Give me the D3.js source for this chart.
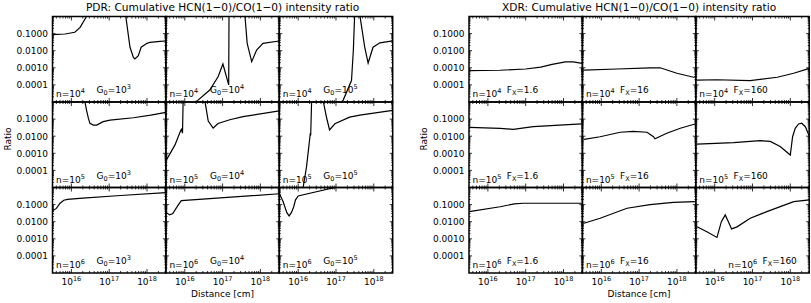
<!DOCTYPE html>
<html>
<head>
<meta charset="utf-8">
<script src="https://cdn.jsdelivr.net/npm/d3@7"></script>
<style>
  body { margin: 0; background: #fff; }
  svg { display: block; }
  text { font-family: "DejaVu Sans", sans-serif; fill: #000; }
</style>
</head>
<body>
<div id="chart"></div>
<script>
// axis ticks
var xTickVals = [1e16, 1e17, 1e18];
var xTickExp = ['16', '17', '18'];
var yTickVals = [1e-1, 1e-2, 1e-3, 1e-4];
var yTickLabels = ['0.1000', '0.0100', '0.0010', '0.0001'];

// panel parameters
var densityExp = ['4', '5', '6'];
var g0Exp = ['3', '4', '5'];
var fxValues = ['1.6', '16', '160'];

// PDR curves: [distance cm, ratio]
var pdr_n4_g3 = [[3.2e15,0.087],[6.8e15,0.095],[1.23e16,0.12],[1.7e16,0.23],[2.51e16,1.0],[3.2e16,3],[2.2e17,3],[2.75e17,1.0],[3.55e17,0.0158],[4.37e17,0.0041],[4.79e17,0.0033],[5.89e17,0.0051],[7.0e17,0.016],[1.0e18,0.027],[1.2e18,0.031],[2.2e18,0.035],[3.16e18,0.037]];
var pdr_n4_g4 = [[1.7e16,5e-6],[2.24e16,1.3e-5],[4.57e16,5.0e-5],[7.59e16,3.0e-4],[1.02e17,1.66e-3],[1.45e17,1.0e-4],[1.48e17,3],[3.5e17,3],[3.89e17,1.2],[4.47e17,0.027],[5.89e17,0.0023],[7.94e17,0.011],[1.17e18,0.027],[3.16e18,0.037]];
var pdr_n4_g5 = [[1.26e17,8e-6],[1.55e17,1.3e-5],[2.57e17,1.8e-4],[2.88e17,0.011],[3.16e17,3],[3.63e17,5],[4.27e17,1.2],[5.75e17,0.016],[7.08e17,0.0019],[9.55e17,0.016],[1.45e18,0.029],[3.16e18,0.038]];
var pdr_n5_g3 = [[1.8e16,5],[2.29e16,1.0],[2.51e16,0.34],[2.82e16,0.11],[3.09e16,0.056],[3.8e16,0.045],[4.68e16,0.045],[6.92e16,0.071],[1.05e17,0.088],[4.37e17,0.12],[1.26e18,0.17],[3.16e18,0.25]];
var pdr_n5_g4 = [[3.2e15,3.8e-4],[4.0e15,9e-4],[5.5e15,3.1e-3],[7.6e15,0.019],[8.1e15,0.025],[8.7e15,0.015],[9.1e15,3],[1.6e16,5],[3.39e16,1.2],[4.17e16,0.077],[5.62e16,0.030],[7.59e16,0.055],[1.55e17,0.092],[3.47e17,0.138],[3.16e18,0.30]];
var pdr_n5_g5 = [[1.17e16,8e-6],[1.35e16,1e-5],[1.66e16,1.6e-4],[2.04e16,0.009],[2.09e16,0.015],[2.14e16,0.011],[2.29e16,3],[3.16e16,5],[4.57e16,1.2],[5.62e16,0.124],[6.76e16,0.023],[9.33e16,0.053],[2.29e17,0.13],[4.27e17,0.17],[3.16e18,0.32]];
var pdr_n6_g3 = [[3.2e15,0.044],[4.0e15,0.06],[5.0e15,0.12],[6.3e15,0.18],[7.9e15,0.2],[2.0e16,0.24],[2.0e17,0.34],[3.16e18,0.5]];
var pdr_n6_g4 = [[3.2e15,0.035],[4.0e15,0.025],[4.8e15,0.03],[6.8e15,0.1],[8.1e15,0.17],[3.16e18,0.43]];
var pdr_n6_g5 = [[3.2e15,0.42],[3.98e15,0.15],[5.0e15,0.034],[5.75e15,0.022],[6.6e15,0.034],[7.6e15,0.075],[8.5e15,0.19],[1.0e16,0.32],[9.33e16,1.0],[3.16e18,6]];

// XDR curves: [distance cm, ratio]
var xdr_n4_f1 = [[3.2e15,6.8e-4],[2.1e16,7.2e-4],[1e17,8.5e-4],[2.5e17,1.1e-3],[5e17,1.6e-3],[1.12e18,2.2e-3],[1.8e18,2.2e-3],[3.16e18,1.8e-3]];
var xdr_n4_f16 = [[3.5e15,7.4e-4],[2.6e16,8.5e-4],[1.95e17,1.0e-3],[3.6e17,1.0e-3],[1e18,4.8e-4],[2.75e18,2.8e-4],[3.09e18,3.0e-4],[3.16e18,6e-4]];
var xdr_n4_f160 = [[3.4e15,1.9e-4],[1.15e16,2.0e-4],[8.7e16,1.8e-4],[4.5e17,2.8e-4],[1.23e18,4.8e-4],[3.2e18,9.3e-4]];
var xdr_n5_f1 = [[3.2e15,0.033],[2.1e16,0.029],[4.7e16,0.025],[1.58e17,0.036],[3.0e18,0.052]];
var xdr_n5_f16 = [[3.5e15,0.0066],[9.3e15,0.0093],[3.16e16,0.017],[7.1e16,0.019],[1.62e17,0.017],[2.4e17,0.0093],[2.63e17,0.007],[5.4e17,0.015],[1.23e18,0.029],[3.0e18,0.052]];
var xdr_n5_f160 = [[3.4e15,0.0034],[3.16e16,0.0042],[1.58e17,0.0055],[2.95e17,0.005],[5.4e17,0.0025],[1e18,7.9e-4],[1.15e18,0.0093],[1.35e18,0.029],[1.66e18,0.052],[2.0e18,0.057],[2.5e18,0.036],[2.95e18,0.015],[3.2e18,0.010]];
var xdr_n6_f1 = [[3.2e15,0.039],[2.1e16,0.075],[5e16,0.11],[8.7e16,0.12],[3.0e18,0.12]];
var xdr_n6_f16 = [[3.5e15,0.0081],[9.3e15,0.016],[4.8e16,0.061],[1.95e17,0.10],[8.1e17,0.135],[3.0e18,0.15]];
var xdr_n6_f160 = [[3.4e15,0.0051],[6.2e15,0.0026],[1.15e16,0.0012],[1.5e16,0.01],[1.9e16,0.025],[2.3e16,0.01],[2.8e16,0.0038],[3.9e16,0.005],[8.7e16,0.016],[2.4e17,0.039],[1.23e18,0.15],[3.2e18,0.19]];

var pdrSeries = [[pdr_n4_g3, pdr_n4_g4, pdr_n4_g5], [pdr_n5_g3, pdr_n5_g4, pdr_n5_g5], [pdr_n6_g3, pdr_n6_g4, pdr_n6_g5]];
var xdrSeries = [[xdr_n4_f1, xdr_n4_f16, xdr_n4_f160], [xdr_n5_f1, xdr_n5_f16, xdr_n5_f160], [xdr_n6_f1, xdr_n6_f16, xdr_n6_f160]];

var W = 811, H = 303;
var pw = 113.4, ph = 85.5;
var top0 = 16.5;

var svg = d3.select('#chart').append('svg').attr('width', W).attr('height', H);

var x = d3.scaleLog().domain([Math.pow(10, 15.5), Math.pow(10, 18.5)]).range([0, pw]);
var y = d3.scaleLog().domain([1e-5, 1]).range([ph, 0]);

var line = d3.line().x(function(d) { return x(d[0]); }).y(function(d) { return y(d[1]); });

// minor ticks
var xMinor = [], yMinor = [];
for (var e = 15; e <= 18; e++) {
  for (var m = 2; m <= 9; m++) {
    var v = m * Math.pow(10, e);
    if (v > x.domain()[0] && v < x.domain()[1]) xMinor.push(v);
  }
}
for (var e2 = -5; e2 <= -1; e2++) {
  for (var m2 = 2; m2 <= 9; m2++) yMinor.push(m2 * Math.pow(10, e2));
}
var yMajor = [1e-4, 1e-3, 1e-2, 1e-1];

var clipId = 0;

function drawGroup(x0, title, series, labelFn) {
  var g = svg.append('g');

  g.append('text')
    .attr('x', x0 + 1.5 * pw).attr('y', 10.5)
    .attr('text-anchor', 'middle')
    .style('font-size', '10.6px')
    .text(title);

  g.append('text')
    .attr('transform', 'translate(' + (x0 - 42) + ',' + 139 + ') rotate(-90)')
    .attr('text-anchor', 'middle')
    .style('font-size', '9px')
    .text('Ratio');

  g.append('text')
    .attr('x', x0 + 1.5 * pw).attr('y', 297)
    .attr('text-anchor', 'middle')
    .style('font-size', '9px')
    .text('Distance [cm]');

  for (var r = 0; r < 3; r++) {
    for (var c = 0; c < 3; c++) {
      var px = x0 + c * pw, py = top0 + r * ph;
      var p = g.append('g').attr('transform', 'translate(' + px + ',' + py + ')');
      var id = 'clip' + (clipId++);
      p.append('clipPath').attr('id', id)
        .append('rect').attr('width', pw).attr('height', ph);

      // inward ticks on all four sides
      var xt = p.append('g').attr('stroke', '#000').attr('stroke-width', 0.8);
      xMinor.forEach(function(v) {
        xt.append('line').attr('x1', x(v)).attr('x2', x(v)).attr('y1', ph).attr('y2', ph - 2);
        xt.append('line').attr('x1', x(v)).attr('x2', x(v)).attr('y1', 0).attr('y2', 2);
      });
      xTickVals.forEach(function(v) {
        xt.append('line').attr('x1', x(v)).attr('x2', x(v)).attr('y1', ph).attr('y2', ph - 4);
        xt.append('line').attr('x1', x(v)).attr('x2', x(v)).attr('y1', 0).attr('y2', 4);
      });
      yMinor.forEach(function(v) {
        xt.append('line').attr('x1', 0).attr('x2', 1.5).attr('y1', y(v)).attr('y2', y(v));
        xt.append('line').attr('x1', pw).attr('x2', pw - 1.5).attr('y1', y(v)).attr('y2', y(v));
      });
      yMajor.forEach(function(v) {
        xt.append('line').attr('x1', 0).attr('x2', 3).attr('y1', y(v)).attr('y2', y(v));
        xt.append('line').attr('x1', pw).attr('x2', pw - 3).attr('y1', y(v)).attr('y2', y(v));
      });

      p.append('path')
        .attr('clip-path', 'url(#' + id + ')')
        .attr('d', line(series[r][c]))
        .attr('fill', 'none')
        .attr('stroke', '#000')
        .attr('stroke-width', 1.2);

      p.append('rect').attr('width', pw).attr('height', ph)
        .attr('fill', 'none').attr('stroke', '#000').attr('stroke-width', 1.5);

      labelFn(p, r, c);

      if (c === 0) {
        yTickVals.forEach(function(v, i) {
          p.append('text')
            .attr('x', -4.5).attr('y', y(v) + 3.3)
            .attr('text-anchor', 'end')
            .style('font-size', '9px')
            .text(yTickLabels[i]);
        });
      }
      if (r === 2) {
        xTickVals.forEach(function(v, i) {
          var t = p.append('text')
            .attr('x', x(v)).attr('y', ph + 12)
            .attr('text-anchor', 'middle')
            .style('font-size', '9px');
          t.append('tspan').text('10');
          t.append('tspan').attr('dy', -4).style('font-size', '6.5px').text(xTickExp[i]);
        });
      }
    }
  }
}

function sup(t, s) {
  t.append('tspan').attr('dy', -4).style('font-size', '6.5px').text(s);
  t.append('tspan').attr('dy', 4).text('');
}

drawGroup(52.5, 'PDR: Cumulative HCN(1\u22120)/CO(1\u22120) intensity ratio', pdrSeries, function(p, r, c) {
  var t = p.append('text').attr('x', 3.5).attr('y', ph - 5).style('font-size', '9px');
  t.append('tspan').text('n=10');
  sup(t, densityExp[r]);
  t.append('tspan').attr('x', 44).text('G');
  t.append('tspan').attr('dy', 2).style('font-size', '6.5px').text('0');
  t.append('tspan').attr('dy', -2).text('=10');
  sup(t, g0Exp[c]);
});

drawGroup(469, 'XDR: Cumulative HCN(1\u22120)/CO(1\u22120) intensity ratio', xdrSeries, function(p, r, c) {
  var off = (r === 2 && c === 2) ? 29 : 0;
  var t = p.append('text').attr('x', 3.5 + off).attr('y', ph - 5).style('font-size', '9px');
  t.append('tspan').text('n=10');
  sup(t, densityExp[r]);
  t.append('tspan').attr('x', 37.7 + off).text('F');
  t.append('tspan').attr('dy', 2).style('font-size', '6.5px').text('X');
  t.append('tspan').attr('dy', -2).text('=' + fxValues[c]);
});
</script>
</body>
</html>
